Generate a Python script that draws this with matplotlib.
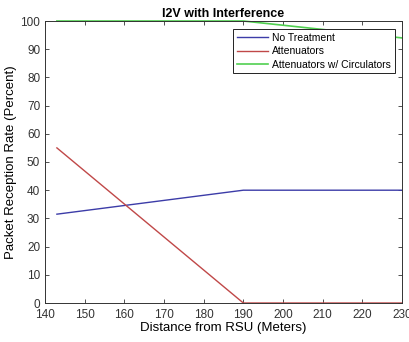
import matplotlib.pyplot as plt

distance = [143, 190, 230]
no_treatment = [31.5, 40, 40]
attenuators = [55, 0, 0]
circulators = [100, 100, 94]

plt.rcParams['font.family'] = ['Liberation Sans', 'DejaVu Sans']

fig = plt.figure(figsize=(4.1, 3.42), dpi=100)
ax = fig.add_axes([45 / 410, 1 - 303 / 342, 357 / 410, 282 / 342])

ax.plot(distance, no_treatment, color='#3c3ca8', lw=1, label='No Treatment')
ax.plot(distance, attenuators, color='#c04848', lw=1, label='Attenuators')
ax.plot(distance, circulators, color='#50d050', lw=1.2, label='Attenuators w/ Circulators',
        clip_on=False)

ax.set_xlim(140, 230)
ax.set_ylim(0, 100)
ax.set_xticks(range(140, 231, 10))
ax.set_yticks(range(0, 101, 10))
ax.tick_params(direction='in', top=True, right=True, labelsize=8.5, colors='#333333', length=3, width=0.6)
ax.tick_params(axis='x', pad=4)
for s in ax.spines.values():
    s.set_color('#333333')
    s.set_linewidth(0.7)

ax.set_title('I2V with Interference', fontsize=9, fontweight='bold', pad=3)
ax.set_xlabel('Distance from RSU (Meters)', fontsize=9.5, labelpad=1)
ax.set_ylabel('Packet Reception Rate (Percent)', fontsize=9.5, labelpad=2)

leg = ax.legend(loc='upper right', bbox_to_anchor=(0.98, 0.972), fontsize=7.5, frameon=True,
                fancybox=False, borderpad=0.35, handlelength=3.0, labelspacing=0.35, handletextpad=0.4,
                borderaxespad=0)
leg.get_frame().set_edgecolor('#222222')
leg.get_frame().set_linewidth(0.7)
leg.get_frame().set_alpha(1)

fig.savefig('out.png', dpi=100)
